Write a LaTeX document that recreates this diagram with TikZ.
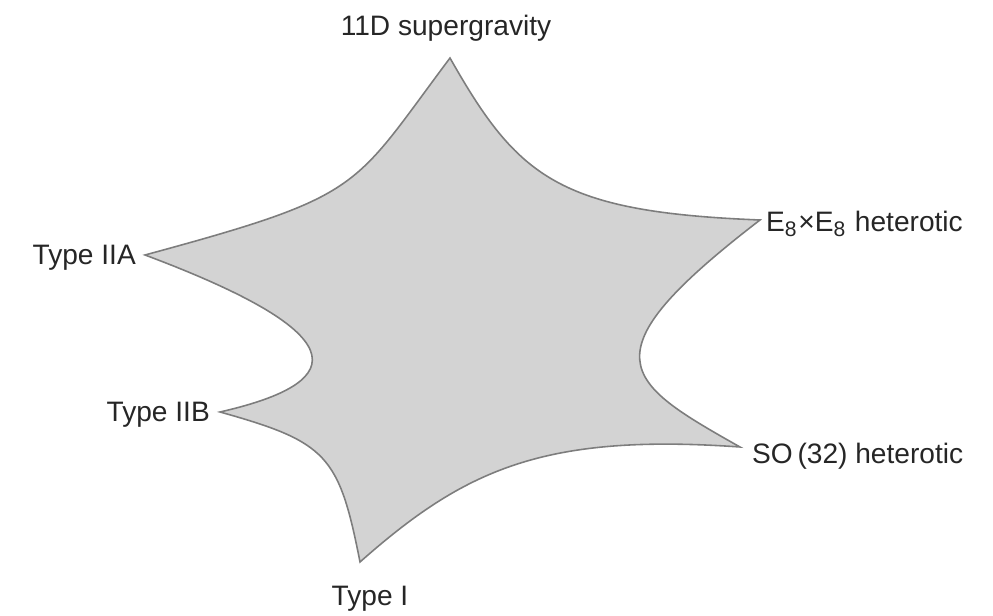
\documentclass[tikz,border=0pt]{standalone}
\usepackage{fontspec}
\setmainfont{Liberation Sans}
\usepackage{xcolor}
\usepackage{tikz}
\definecolor{mtheory_fill}{RGB}{211,211,211}
\definecolor{mtheory_edge}{RGB}{125,125,125}

\begin{document}
\begin{tikzpicture}[font=\fontsize{8}{10}\selectfont,
    limit/.style={inner sep=1pt, text=black!85}]
          \useasboundingbox (0,0) rectangle (9.93,-6.16);
          % corners of the moduli space
          \coordinate (sugra) at (4.50,-0.58);
          \coordinate (esh)   at (7.60,-2.20);
          \coordinate (soh)   at (7.40,-4.47);
          \coordinate (tI)    at (3.60,-5.62);
          \coordinate (tIIB)  at (2.20,-4.12);
          \coordinate (tIIA)  at (1.45,-2.55);
          % star shaped region
          \filldraw[fill=mtheory_fill, draw=mtheory_edge, line width=0.45pt, line join=miter]
            (sugra) .. controls (5.18,-1.78) and (5.59,-2.12) .. (esh)
            .. controls (5.83,-3.56) and (6.23,-3.81) .. (soh)
            .. controls (5.43,-4.33) and (4.64,-4.70) .. (tI)
            .. controls (3.39,-4.55) and (3.27,-4.42) .. (tIIB)
            .. controls (3.38,-3.85) and (3.72,-3.40) .. (tIIA)
            .. controls (3.66,-1.95) and (3.51,-1.90) .. cycle;
          % limits
          \node[limit] (lsugra) at (4.46,-0.28) {11D supergravity};
          \node[limit, anchor=west] (lesh) at (7.62,-2.24) {E\textsubscript{8}×E\textsubscript{8} heterotic};
          \node[limit, anchor=west] (lsoh) at (7.48,-4.56) {SO\,(32) heterotic};
          \node[limit] (ltI) at (3.70,-5.99) {Type I};
          \node[limit, anchor=east] (ltIIA) at (1.40,-2.58) {Type IIA};
          \node[limit, anchor=east] (ltIIB) at (2.14,-4.15) {Type IIB};
        \end{tikzpicture}
\end{document}
